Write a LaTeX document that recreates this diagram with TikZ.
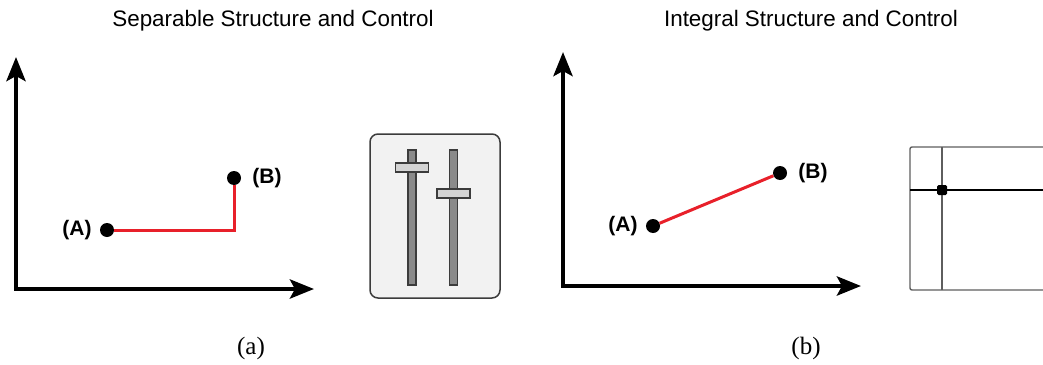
\documentclass[tikz,border=0pt]{standalone}
\usepackage{fontspec}
\setmainfont{Liberation Sans}
\newfontfamily\capfont{Liberation Serif}
\usetikzlibrary{arrows.meta,positioning}
\definecolor{trace}{HTML}{E8202A}
\definecolor{panel}{HTML}{F2F2F2}
\definecolor{frame}{HTML}{3C3C3C}
\definecolor{track}{HTML}{8A8A8A}
\definecolor{knob}{HTML}{D4D4D4}
\definecolor{gridline}{HTML}{5E5E5E}

\begin{document}
\begin{tikzpicture}[x=1pt,y=-1pt,
  axis/.style={line width=4.5pt,{Stealth[length=24pt,width=19pt,inset=5pt]}-{Stealth[length=24pt,width=19pt,inset=5pt]}},
  dot/.style={circle,fill=black,inner sep=0pt,minimum size=14pt},
  ptlabel/.style={inner sep=0pt,font=\fontsize{21}{24}\selectfont\bfseries},
  title/.style={anchor=base,font=\fontsize{22.4}{26}\selectfont},
  caption/.style={anchor=base,font=\capfont\fontsize{25}{28}\selectfont},
  link/.style={trace,line width=3pt}]
 \useasboundingbox (0,0) rectangle (1043,364);
 % (a) separable
 \node[title] (sep-title) at (273,27) {Separable Structure and Control};
 \coordinate (sep-top) at (16,57);
 \coordinate (sep-o) at (16,289);
 \coordinate (sep-end) at (314,289);
 \draw[axis] (sep-top) -- (sep-o) -- (sep-end);
 \node[dot] (sep-A) at (107,230) {};
 \node[dot] (sep-B) at (234,178) {};
 \draw[link] (sep-A) -| (sep-B);
 \node[ptlabel,left=8pt of sep-A] (sep-Alab) {(A)};
 \node[ptlabel,right=11pt of sep-B] (sep-Blab) {(B)};
 \draw[frame,fill=panel,rounded corners=8pt,line width=1.5pt] (370,134) rectangle (500,298);
 \foreach \x/\k in {412/167.5,453.5/193.5}{
   \draw[frame,fill=track,line width=1.5pt] (\x-4,150) rectangle (\x+4,285);
   \draw[frame,fill=knob,line width=1.2pt] (\x-16.5,\k-4.5) rectangle (\x+16.5,\k+4.5);
 }
 \node[caption] (sep-cap) at (251,354) {(a)};
 % (b) integral
 \node[title] (int-title) at (811,27) {Integral Structure and Control};
 \coordinate (int-top) at (563,52);
 \coordinate (int-o) at (563,286);
 \coordinate (int-end) at (861,286);
 \draw[axis] (int-top) -- (int-o) -- (int-end);
 \node[dot] (int-A) at (653,226) {};
 \node[dot] (int-B) at (780,173) {};
 \draw[link] (int-A) -- (int-B);
 \node[ptlabel,left=8pt of int-A] (int-Alab) {(A)};
 \node[ptlabel,right=11pt of int-B] (int-Blab) {(B)};
 \draw[gridline,line width=1.4pt,rounded corners=2pt] (910,147) rectangle (1075,290);
 \draw[gridline,line width=1.4pt] (942,147) -- (942,290);
 \draw[black,line width=1.2pt] (910,190) -- (1075,190);
 \node[fill=black,rounded corners=1.5pt,inner sep=0pt,minimum size=10pt] (int-knob) at (942,190) {};
 \node[caption] (int-cap) at (806,354) {(b)};
\end{tikzpicture}
\end{document}
